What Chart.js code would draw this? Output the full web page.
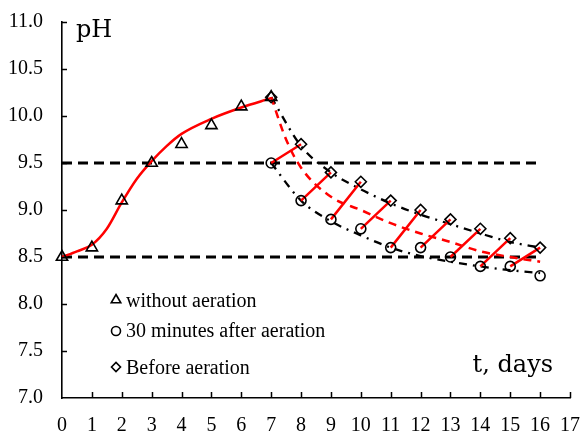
<!DOCTYPE html>
<html><head><meta charset="utf-8">
<script src="https://cdn.jsdelivr.net/npm/chart.js@4/dist/chart.umd.min.js"></script>
<style>html,body{margin:0;padding:0;background:#fff;overflow:hidden}</style>
</head><body>
<canvas id="c" width="582" height="432"></canvas>
<script>
// ---- data ----
const daysGrowth = [0, 1, 2, 3, 4, 5, 6, 7];
const phWithoutAeration = [8.5, 8.6, 9.1, 9.5, 9.7, 9.9, 10.1, 10.2];
const fitDays = [0, 0.5, 1, 1.5, 2, 2.5, 3, 3.5, 4, 5, 6, 7];
const fitPh = [8.5, 8.56, 8.63, 8.8, 9.08, 9.33, 9.52, 9.68, 9.81, 9.97, 10.09, 10.19];
const daysAeration = [7, 8, 9, 10, 11, 12, 13, 14, 15, 16];
const phAfterAeration = [9.5, 9.1, 8.9, 8.8, 8.6, 8.6, 8.5, 8.4, 8.4, 8.3];
const phBeforeAeration = [10.2, 9.7, 9.4, 9.3, 9.1, 9.0, 8.9, 8.8, 8.7, 8.6];
const meanDays = [7, 7.5, 8, 9, 10, 11, 12, 13, 14, 15, 16];
const meanPh = [10.2, 9.75, 9.45, 9.14, 9.0, 8.86, 8.75, 8.66, 8.56, 8.5, 8.45];
const upperEnvelopePh = [10.2, 9.68, 9.4, 9.22, 9.07, 8.95, 8.85, 8.75, 8.66, 8.6];
const lowerEnvelopePh = [9.5, 9.1, 8.88, 8.73, 8.6, 8.51, 8.45, 8.4, 8.36, 8.33];
const referenceLevels = [9.5, 8.5];
const referenceSpan = [0, 16];
const xRange = [0, 17];
const yRange = [7, 11];
const legendLabels = ['without aeration', '30 minutes after aeration', 'Before aeration'];
const yAxisTitle = 'pH';
const xAxisTitle = 't, days';

// ---- build library datasets ----
const pts = (xs, ys) => xs.map((x, i) => ({x: x, y: ys[i]}));
const sawtooth = [];
for (let i = 0; i < daysAeration.length - 1; i++) {
  sawtooth.push({x: daysAeration[i], y: phAfterAeration[i]});
  sawtooth.push({x: daysAeration[i + 1], y: phBeforeAeration[i + 1]});
  sawtooth.push({x: daysAeration[i + 1], y: null});
}
const SERIF = '"Liberation Serif", "Times New Roman", serif';
const TITLE_SERIF = '"DejaVu Serif", serif';

const markerBase = {showLine: false, borderColor: '#000', backgroundColor: 'rgba(0,0,0,0)', pointBorderWidth: 1.6, clip: false};
const lineBase = {pointRadius: 0, fill: false, clip: false};

const datasets = [
  Object.assign({label: legendLabels[0], data: pts(daysGrowth, phWithoutAeration), pointStyle: 'triangle', pointRadius: 6.5}, markerBase),
  Object.assign({label: legendLabels[1], data: pts(daysAeration, phAfterAeration), pointStyle: 'circle', pointRadius: 5}, markerBase),
  Object.assign({label: legendLabels[2], data: pts(daysAeration, phBeforeAeration), pointStyle: 'rectRot', pointRadius: 5.5}, markerBase),
  Object.assign({label: 'fit', data: pts(fitDays, fitPh), borderColor: '#ff0000', borderWidth: 2.5, cubicInterpolationMode: 'monotone'}, lineBase),
  Object.assign({label: 'aeration steps', data: sawtooth, borderColor: '#ff0000', borderWidth: 2.5, spanGaps: false}, lineBase),
  Object.assign({label: 'mean', data: pts(meanDays, meanPh), borderColor: '#ff0000', borderWidth: 2.5, borderDash: [8, 6], cubicInterpolationMode: 'monotone'}, lineBase),
  Object.assign({label: 'upper', data: pts(daysAeration, upperEnvelopePh), borderColor: '#000', borderWidth: 2.3, borderDash: [8, 6, 2, 6], cubicInterpolationMode: 'monotone'}, lineBase),
  Object.assign({label: 'lower', data: pts(daysAeration, lowerEnvelopePh), borderColor: '#000', borderWidth: 2.3, borderDash: [8, 6, 2, 6], cubicInterpolationMode: 'monotone'}, lineBase)
];
referenceLevels.forEach(v => {
  datasets.push(Object.assign({label: 'ref ' + v, data: referenceSpan.map(x => ({x: x, y: v})), borderColor: '#000', borderWidth: 3, borderDash: [10, 6]}, lineBase));
});

const decorPlugin = {
  id: 'decor',
  afterDraw(chart) {
    const ctx = chart.ctx, xs = chart.scales.x, ys = chart.scales.y;
    const a = chart.chartArea;
    ctx.save();
    // inward tick marks
    ctx.strokeStyle = '#000'; ctx.lineWidth = 1.5;
    xs.ticks.forEach(t => {
      if (t.value === xRange[0]) return;
      const px = Math.round(xs.getPixelForValue(t.value)) + 0.5;
      ctx.beginPath(); ctx.moveTo(px, a.bottom); ctx.lineTo(px, a.bottom - 6); ctx.stroke();
    });
    ys.ticks.forEach(t => {
      if (t.value === yRange[0]) return;
      const py = Math.round(ys.getPixelForValue(t.value)) + 0.5;
      ctx.beginPath(); ctx.moveTo(a.left, py); ctx.lineTo(a.left + 5, py); ctx.stroke();
    });
    // axis titles
    ctx.fillStyle = '#000';
    ctx.font = '24px ' + TITLE_SERIF;
    ctx.textBaseline = 'alphabetic';
    ctx.textAlign = 'left';
    ctx.fillText(yAxisTitle, a.left + 14, 37);
    ctx.textAlign = 'right';
    ctx.fillText(xAxisTitle, a.right - 17, 372);
    // legend
    const rows = [{y: 300, base: 307}, {y: 331, base: 337}, {y: 367, base: 374}];
    ctx.font = '20px ' + SERIF;
    for (let i = 0; i < 3; i++) {
      const ds = chart.data.datasets[i];
      ctx.save();
      ctx.fillStyle = 'rgba(0,0,0,0)';
      ctx.strokeStyle = '#000';
      ctx.lineWidth = 1.6;
      Chart.helpers.drawPoint(ctx, {pointStyle: ds.pointStyle, radius: ds.pointStyle === 'triangle' ? 5.5 : 4.5, borderWidth: 1.6, rotation: 0}, 116, rows[i].y);
      ctx.restore();
      ctx.fillStyle = '#000';
      ctx.textAlign = 'left';
      ctx.textBaseline = 'alphabetic';
      ctx.fillText(ds.label, 126, rows[i].base);
    }
    ctx.restore();
  }
};

const zeroPad = s => { s.paddingLeft = 0; s.paddingRight = 0; s.paddingTop = 0; s.paddingBottom = 0; };

new Chart(document.getElementById('c'), {
  type: 'line',
  data: {datasets: datasets},
  plugins: [decorPlugin],
  options: {
    responsive: false,
    animation: false,
    devicePixelRatio: 1,
    layout: {padding: {left: 0, right: 12, top: 22, bottom: 0}},
    plugins: {legend: {display: false}, tooltip: {enabled: false}},
    elements: {line: {tension: 0}},
    scales: {
      x: {
        type: 'linear', min: xRange[0], max: xRange[1],
        ticks: {stepSize: 1, color: '#000', padding: 16, maxRotation: 0, autoSkip: false, font: {family: SERIF, size: 20}},
        grid: {display: true, drawOnChartArea: false, drawTicks: false},
        border: {display: true, color: '#000', width: 1.6},
        afterFit: s => { s.height = 34; zeroPad(s); }
      },
      y: {
        type: 'linear', min: yRange[0], max: yRange[1],
        ticks: {stepSize: 0.5, color: '#000', padding: 19, font: {family: SERIF, size: 20}, callback: v => Number(v).toFixed(1)},
        grid: {display: true, drawOnChartArea: false, drawTicks: false},
        border: {display: true, color: '#000', width: 1.6},
        afterFit: s => { s.width = 62; zeroPad(s); }
      }
    }
  }
});
</script>
</body></html>
